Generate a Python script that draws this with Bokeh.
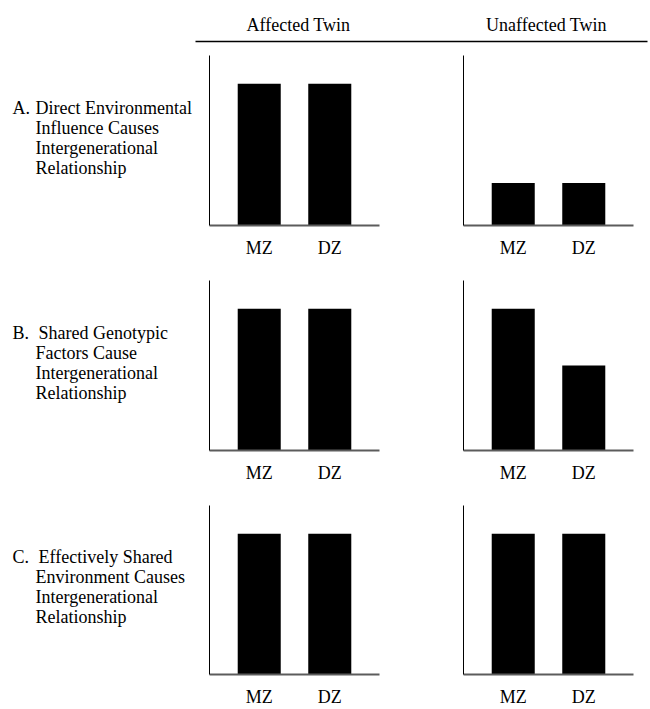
from bokeh.plotting import figure
from bokeh.layouts import column, row
from bokeh.models import Range1d, FactorRange, FixedTicker
from bokeh.embed import file_html
from bokeh.resources import INLINE
from bokeh.core.properties import value

# ---------------- data ----------------
twins = ["MZ", "DZ"]
column_titles = ["Affected Twin", "Unaffected Twin"]
row_prefixes = ["A.", "B.", "C."]
row_first_lines = ["Direct Environmental", "Shared Genotypic", "Effectively Shared"]
row_more_lines = [
    ["Influence Causes", "Intergenerational", "Relationship"],
    ["Factors Cause", "Intergenerational", "Relationship"],
    ["Environment Causes", "Intergenerational", "Relationship"],
]
affected = [[5, 5], [5, 5], [5, 5]]
unaffected = [[1.5, 1.5], [5, 3], [5, 5]]
y_max = 6

# ---------------- layout / style ----------------
FONT = "Liberation Serif"
FS = "18px"
HEADER_H = 45
ROW_H = [225, 225, 214]
LABEL_W = 195
FRAME_W = 170
FRAME_H = 170
FRAME_TOP = 10
LEFT_W = 14 + FRAME_W + 70
RIGHT_W = 14 + FRAME_W + 17


def blank_fig(width, height, top=0, frame_h=None):
    if frame_h is None:
        frame_h = height
    p = figure(width=width, height=height,
               x_range=Range1d(0, width), y_range=Range1d(frame_h, 0),
               output_backend="svg", toolbar_location=None,
               x_axis_location=None, y_axis_location=None,
               min_border_left=0, min_border_right=0,
               min_border_top=top, min_border_bottom=height - top - frame_h)
    p.grid.grid_line_color = None
    p.outline_line_color = None
    p.background_fill_color = None
    p.border_fill_color = "white"
    return p


def panel(vals, width, border_right, height):
    p = figure(width=width, height=height,
               x_range=FactorRange(factors=twins, range_padding=0.205,
                                   range_padding_units="absolute"),
               y_range=Range1d(0, y_max),
               output_backend="svg", toolbar_location=None,
               min_border_left=14, min_border_right=border_right,
               min_border_top=FRAME_TOP,
               min_border_bottom=height - FRAME_TOP - FRAME_H)
    p.vbar(x=twins, top=vals, width=0.61, fill_color="black", line_color=None)
    p.grid.grid_line_color = None
    p.outline_line_color = None
    xa = p.xaxis[0]
    xa.major_tick_line_color = None
    xa.minor_tick_line_color = None
    xa.major_tick_out = 0
    xa.major_tick_in = 0
    xa.major_label_standoff = 12
    xa.major_label_text_font = FONT
    xa.major_label_text_font_size = FS
    xa.major_label_text_color = "black"
    xa.axis_line_color = "#5c5c5c"
    xa.axis_line_width = 2
    ya = p.yaxis[0]
    ya.ticker = FixedTicker(ticks=[])
    ya.major_tick_line_color = None
    ya.minor_tick_line_color = None
    ya.major_tick_out = 0
    ya.major_tick_in = 0
    ya.major_label_standoff = 0
    ya.major_label_text_font_size = "0px"
    ya.axis_line_color = "black"
    ya.axis_line_width = 1
    return p


def txt(p, xs, ys, texts, align="left"):
    p.text(x=xs, y=ys, text=texts, text_font=value(FONT), text_font_size=FS,
           text_align=align, text_baseline="alphabetic", text_color="black")


# header
header = blank_fig(650, HEADER_H)
txt(header, [298, 546], [24, 24], column_titles, align="center")
header.segment(x0=[195], y0=[41], x1=[647], y1=[41], line_color="black", line_width=1.3)

rows = [header]
first_x = [35, 38, 38]
for i in range(3):
    h = ROW_H[i]
    lab = blank_fig(LABEL_W, h, top=FRAME_TOP, frame_h=FRAME_H)
    base = 52  # baseline of the first line, measured from the frame top
    txt(lab, [12], [base], [row_prefixes[i]])
    txt(lab, [first_x[i]], [base], [row_first_lines[i]])
    txt(lab, [35, 35, 35], [base + 20, base + 40, base + 60], row_more_lines[i])
    left = panel(affected[i], LEFT_W, LEFT_W - 14 - FRAME_W, h)
    right = panel(unaffected[i], RIGHT_W, RIGHT_W - 14 - FRAME_W, h)
    rows.append(row(lab, left, right, spacing=0))

layout = column(*rows, spacing=0)

open("out.html", "w").write(file_html(layout, INLINE))
